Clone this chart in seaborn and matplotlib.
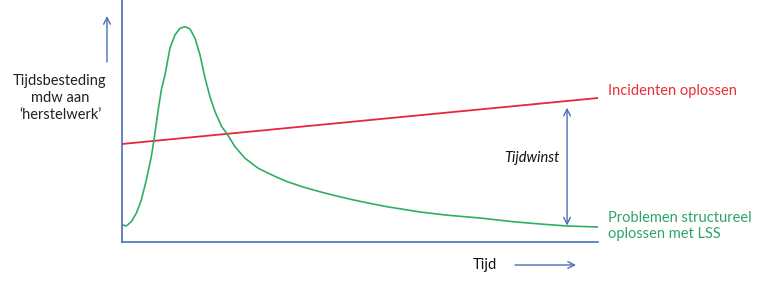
import matplotlib
matplotlib.use("Agg")
import matplotlib.pyplot as plt
import seaborn as sns
import pandas as pd

sns.set_theme(style="white")
plt.rcParams['font.family'] = ['Lato', 'DejaVu Sans']

# Data (time 0..100, effort 0..100)
red_x = [0, 100]
red_y = [40.5, 59.5]

green_x = [0, 0.21, 0.90, 1.95, 3.00, 4.05, 5.11, 6.16, 6.72, 7.21, 7.71, 8.26,
           9.03, 10.08, 11.13, 12.18, 13.24, 14.29, 15.34, 16.39, 17.44, 18.49,
           19.54, 20.95, 22.0, 23.74, 25.84, 28.63, 32.14, 34.6, 38.09, 41.6,
           45.1, 48.59, 52.1, 55.61, 62.6, 68.21, 75.2, 82.14, 87.82, 93.5, 100]
green_y = [7.02, 7.02, 6.61, 8.39, 11.86, 17.36, 25.62, 35.25, 42.15, 49.05,
           55.91, 62.81, 69.01, 80.17, 85.54, 88.31, 88.97, 88.02, 84.17, 77.27,
           67.77, 59.98, 53.84, 47.64, 44.90, 39.38, 34.59, 30.45, 27.1, 25.0,
           22.7, 20.75, 19.0, 17.4, 15.95, 14.6, 12.40, 11.10, 9.92, 8.39,
           7.44, 6.61, 6.20]

label_red = "Incidenten oplossen"
label_green = "Problemen structureel\noplossen met LSS"
y_label = "Tijdsbesteding\nmdw aan\n\u2018herstelwerk\u2019"
x_label = "Tijd"
gain_label = "Tijdwinst"

BLUE = "#4a6fb5"
RED = "#e8253a"
GREEN = "#2fae66"
RED_TXT = "#e8303a"
GREEN_TXT = "#2ea36a"

W, H = 781, 292
fig = plt.figure(figsize=(W / 100, H / 100), dpi=100)
ax = fig.add_axes([122 / W, (H - 242) / H, (598 - 122) / W, 242 / H])

df_red = pd.DataFrame({"x": red_x, "y": red_y})
df_green = pd.DataFrame({"x": green_x, "y": green_y})
sns.lineplot(data=df_red, x="x", y="y", ax=ax, color=RED, lw=1.3)
sns.lineplot(data=df_green, x="x", y="y", ax=ax, color=GREEN, lw=1.2,
             sort=False, solid_joinstyle="round")

ax.set_xlim(0, 100)
ax.set_ylim(0, 100)
ax.set_xticks([])
ax.set_yticks([])
ax.set_xlabel("")
ax.set_ylabel("")
for s in ["top", "right"]:
    ax.spines[s].set_visible(False)
for s in ["left", "bottom"]:
    ax.spines[s].set_color(BLUE)
    ax.spines[s].set_linewidth(1.2)

# Tijdwinst arrow between lines
ax.annotate("", xy=(93.5, 55.5), xytext=(93.5, 6.8),
            arrowprops=dict(arrowstyle="<->", color=BLUE, lw=1.0,
                            mutation_scale=12, shrinkA=0, shrinkB=0))

# overlay for decorations in pixel coordinates
ov = fig.add_axes([0, 0, 1, 1], facecolor="none")
ov.set_xlim(0, W)
ov.set_ylim(H, 0)
ov.axis("off")

fs = 10.5
ov.text(608, 91, label_red, color=RED_TXT, fontsize=fs, va="center", ha="left")
ov.text(608, 226, label_green, color=GREEN_TXT, fontsize=fs, va="center", ha="left",
        linespacing=1.25)
ov.text(60, 98, y_label, color="#222222", fontsize=fs, va="center", ha="center",
        linespacing=1.3)
ov.text(532, 158, gain_label, color="#111111", fontsize=fs, va="center", ha="center",
        style="italic")
ov.text(485, 265, x_label, color="#111111", fontsize=fs, va="center", ha="center")

ov.annotate("", xy=(107, 16), xytext=(107, 62),
            arrowprops=dict(arrowstyle="->", color=BLUE, lw=1.0, mutation_scale=12,
                            shrinkA=0, shrinkB=0))
ov.annotate("", xy=(576, 265), xytext=(515, 265),
            arrowprops=dict(arrowstyle="->", color=BLUE, lw=1.0, mutation_scale=12,
                            shrinkA=0, shrinkB=0))

fig.savefig("out.png", dpi=100, facecolor="white")
